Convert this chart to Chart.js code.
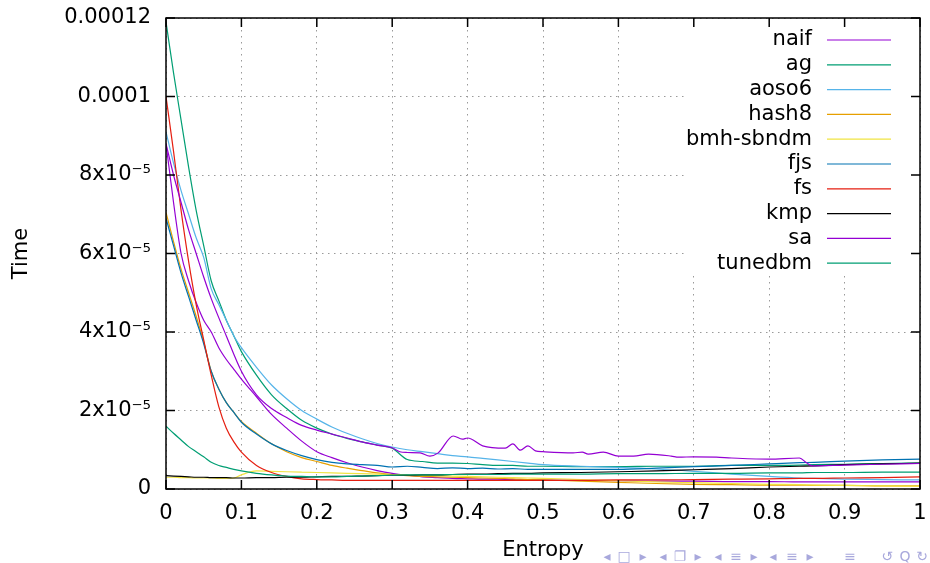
<!DOCTYPE html>
<html>
<head>
<meta charset="utf-8">
<script src="https://cdn.jsdelivr.net/npm/chart.js"></script>
<style>
html, body { margin: 0; padding: 0; background: #fff; }
#wrap { width: 930px; height: 563px; }
</style>
</head>
<body>
<div id="wrap"><canvas id="entropy_chart" width="930" height="563"></canvas></div>
<script>
// time values are in units of 1e-5 (the y axis labels carry the scale)
var entropy = [0, 0.01, 0.02, 0.03, 0.04, 0.05, 0.06, 0.07, 0.08, 0.09,
    0.10, 0.12, 0.14, 0.16, 0.18, 0.20, 0.22, 0.24, 0.26, 0.28,
    0.30, 0.32, 0.34, 0.36, 0.38, 0.40, 0.42, 0.44, 0.46, 0.48,
    0.50, 0.55, 0.60, 0.65, 0.70, 0.75, 0.80, 0.84, 0.86, 0.90, 0.95, 1.00]

var naif = [8.8, 7.3, 6.0, 5.3, 4.75, 4.3, 4.0, 3.6, 3.3, 3.05,
    2.8, 2.35, 1.9, 1.55, 1.22, 0.95, 0.8, 0.67, 0.56, 0.47,
    0.4, 0.35, 0.31, 0.29, 0.27, 0.26, 0.25, 0.25, 0.24, 0.24,
    0.23, 0.22, 0.21, 0.2, 0.2, 0.19, 0.19, 0.18, 0.18, 0.18, 0.18, 0.18]
var ag = [11.9, 10.6, 9.4, 8.2, 7.1, 6.2, 5.3, 4.8, 4.3, 3.9,
    3.5, 2.9, 2.4, 2.05, 1.75, 1.55, 1.4, 1.29, 1.2, 1.12,
    1.04, 0.75, 0.7, 0.66, 0.66, 0.65, 0.62, 0.6, 0.6, 0.58,
    0.58, 0.57, 0.57, 0.58, 0.58, 0.6, 0.6, 0.61, 0.62, 0.63, 0.65, 0.66]
var aoso6 = [9.1, 8.3, 7.6, 7.0, 6.4, 5.9, 5.1, 4.7, 4.3, 3.9,
    3.6, 3.1, 2.65, 2.3, 2.0, 1.78, 1.58, 1.42, 1.28, 1.16,
    1.07, 1.0, 0.95, 0.9, 0.85, 0.82, 0.78, 0.74, 0.7, 0.66,
    0.62, 0.58, 0.55, 0.51, 0.45, 0.38, 0.32, 0.28, 0.27, 0.25, 0.24, 0.23]
var hash8 = [7.05, 6.3, 5.6, 5.0, 4.4, 3.75, 3.0, 2.55, 2.2, 1.95,
    1.72, 1.42, 1.15, 0.95, 0.8, 0.7, 0.6, 0.53, 0.47, 0.41,
    0.37, 0.34, 0.32, 0.31, 0.3, 0.29, 0.28, 0.27, 0.26, 0.24,
    0.23, 0.2, 0.17, 0.14, 0.12, 0.11, 0.1, 0.1, 0.09, 0.09, 0.08, 0.08]
var bmhSbndm = [0.3, 0.3, 0.29, 0.29, 0.28, 0.28, 0.28, 0.27, 0.27, 0.28,
    0.36, 0.46, 0.45, 0.44, 0.43, 0.42, 0.41, 0.4, 0.39, 0.38,
    0.37, 0.36, 0.35, 0.34, 0.33, 0.32, 0.31, 0.3, 0.29, 0.28,
    0.27, 0.24, 0.21, 0.18, 0.16, 0.14, 0.12, 0.11, 0.1, 0.09, 0.08, 0.07]
var fjs = [6.9, 6.2, 5.5, 4.9, 4.3, 3.7, 3.0, 2.55, 2.2, 1.95,
    1.7, 1.4, 1.15, 0.98, 0.85, 0.75, 0.68, 0.64, 0.62, 0.6,
    0.56, 0.58, 0.55, 0.52, 0.54, 0.52, 0.53, 0.51, 0.52, 0.5,
    0.5, 0.5, 0.5, 0.53, 0.57, 0.6, 0.64, 0.67, 0.68, 0.71, 0.74, 0.76]
var fs = [10.0, 8.6, 7.1, 5.8, 4.7, 3.8, 2.9, 2.1, 1.55, 1.2,
    0.94, 0.6, 0.42, 0.32, 0.26, 0.24, 0.23, 0.22, 0.22, 0.22,
    0.22, 0.22, 0.22, 0.22, 0.22, 0.22, 0.22, 0.22, 0.22, 0.22,
    0.22, 0.22, 0.23, 0.23, 0.24, 0.25, 0.26, 0.27, 0.27, 0.28, 0.29, 0.31]
var kmp = [0.34, 0.33, 0.32, 0.31, 0.3, 0.3, 0.29, 0.29, 0.29, 0.28,
    0.28, 0.29, 0.29, 0.3, 0.3, 0.31, 0.32, 0.32, 0.33, 0.34,
    0.35, 0.35, 0.36, 0.36, 0.37, 0.38, 0.38, 0.39, 0.4, 0.4,
    0.41, 0.42, 0.44, 0.46, 0.49, 0.52, 0.56, 0.58, 0.59, 0.62, 0.64, 0.66]
var tunedbm = [1.6, 1.42, 1.25, 1.08, 0.95, 0.82, 0.68, 0.6, 0.55, 0.5,
    0.46, 0.4, 0.36, 0.33, 0.32, 0.31, 0.31, 0.32, 0.33, 0.34,
    0.35, 0.36, 0.36, 0.36, 0.37, 0.37, 0.37, 0.37, 0.38, 0.38,
    0.38, 0.38, 0.39, 0.39, 0.4, 0.4, 0.41, 0.41, 0.42, 0.42, 0.43, 0.43]

// sa is sampled on its own grid (it is jagged)
var saEntropy = [0, 0.01, 0.02, 0.03, 0.04, 0.05, 0.06, 0.08, 0.10, 0.12,
    0.14, 0.16, 0.18, 0.20, 0.22, 0.24, 0.26, 0.28, 0.30, 0.31,
    0.32, 0.337, 0.35, 0.361, 0.381, 0.393, 0.40, 0.42, 0.45, 0.46,
    0.47, 0.48, 0.49, 0.50, 0.54, 0.552, 0.56, 0.58, 0.60, 0.62,
    0.64, 0.67, 0.68, 0.70, 0.73, 0.75, 0.80, 0.84, 0.85, 0.857,
    0.90, 0.95, 1.00]
var sa = [8.8, 8.0, 7.3, 6.6, 6.0, 5.4, 4.85, 3.9, 3.0, 2.4,
    2.05, 1.82, 1.62, 1.5, 1.4, 1.3, 1.2, 1.12, 1.05, 0.95,
    0.93, 0.92, 0.84, 0.92, 1.35, 1.27, 1.3, 1.1, 1.04, 1.15,
    0.99, 1.1, 0.97, 0.95, 0.92, 0.94, 0.89, 0.94, 0.84, 0.84,
    0.89, 0.84, 0.81, 0.82, 0.81, 0.79, 0.76, 0.79, 0.66, 0.59,
    0.61, 0.63, 0.65]

var names = ['naif', 'ag', 'aoso6', 'hash8', 'bmh-sbndm', 'fjs', 'fs', 'kmp', 'sa', 'tunedbm']
var series = [naif, ag, aoso6, hash8, bmhSbndm, fjs, fs, kmp, sa, tunedbm]
var xValues = [entropy, entropy, entropy, entropy, entropy, entropy, entropy, entropy, saEntropy, entropy]
var cores = ['#9400d3', '#009e73', '#56b4e9', '#e69f00', '#f0e442', '#0072b2', '#e51e10', '#000000', '#9400d3', '#009e73']

var xTickLabels = ['0', '0.1', '0.2', '0.3', '0.4', '0.5', '0.6', '0.7', '0.8', '0.9', '1']
var yTickLabels = ['0', '2x10\u207B\u2075', '4x10\u207B\u2075', '6x10\u207B\u2075', '8x10\u207B\u2075', '0.0001', '0.00012']

var font = 'DejaVu Sans'
var fontSize = 21
Chart.defaults.font.family = font
Chart.defaults.color = '#000'

var datasets = []
for (var i = 0; i < series.length; i++) {
    var xs = xValues[i]
    datasets.push({
        label: names[i],
        data: series[i].map(function (v, k) { return {x: xs[k], y: v} }),
        borderColor: cores[i],
        backgroundColor: cores[i],
        borderWidth: 1.2,
        pointRadius: 0,
        fill: false,
        cubicInterpolationMode: 'monotone',
        order: series.length - i
    })
}

// gnuplot style frame, inward tics, key and beamer nav symbols
var gnuplotFrame = {
    id: 'gnuplotFrame',
    beforeDatasetsDraw: function (chart) {
        var ctx = chart.ctx, a = chart.chartArea
        ctx.save()
        ctx.fillStyle = '#fff'
        ctx.fillRect(686, a.top + 10, a.right - 687, 248)
        ctx.restore()
    },
    afterDraw: function (chart) {
        var ctx = chart.ctx, a = chart.chartArea
        var sx = chart.scales.x, sy = chart.scales.y
        ctx.save()
        ctx.strokeStyle = '#000'
        ctx.lineWidth = 1.5
        ctx.strokeRect(a.left, a.top, a.right - a.left, a.bottom - a.top)
        ctx.beginPath()
        sx.ticks.forEach(function (t) {
            var p = sx.getPixelForValue(t.value)
            ctx.moveTo(p, a.bottom); ctx.lineTo(p, a.bottom - 9)
            ctx.moveTo(p, a.top); ctx.lineTo(p, a.top + 9)
        })
        sy.ticks.forEach(function (t) {
            var p = sy.getPixelForValue(t.value)
            ctx.moveTo(a.left, p); ctx.lineTo(a.left + 9, p)
            ctx.moveTo(a.right, p); ctx.lineTo(a.right - 9, p)
        })
        ctx.stroke()

        // key
        ctx.font = fontSize + 'px "' + font + '"'
        ctx.textAlign = 'right'
        ctx.textBaseline = 'middle'
        chart.data.datasets.forEach(function (ds, k) {
            var yy = 40 + k * 24.8
            ctx.fillStyle = '#000'
            ctx.fillText(ds.label, 812, yy)
            ctx.strokeStyle = ds.borderColor
            ctx.lineWidth = 1.2
            ctx.beginPath()
            ctx.moveTo(827, yy); ctx.lineTo(891, yy)
            ctx.stroke()
        })

        // beamer navigation symbols
        var nav = ['\u25C2', '\u25A1', '\u25B8', '\u25C2', '\u2750', '\u25B8', '\u25C2', '\u2261', '\u25B8',
            '\u25C2', '\u2261', '\u25B8', '\u2261', '\u21BA', 'Q', '\u21BB']
        var navX = [607, 624, 643, 663, 680, 698, 718, 736, 754, 773, 792, 810, 850, 887, 905, 922]
        ctx.fillStyle = '#a8a8dc'
        ctx.textAlign = 'center'
        ctx.font = '14px "' + font + '"'
        nav.forEach(function (c, k) { ctx.fillText(c, navX[k], 557) })
        ctx.restore()
    }
}

var ctx = document.getElementById('entropy_chart')
var chartLine = new Chart(ctx, {
    type: 'line',
    data: { datasets: datasets },
    plugins: [gnuplotFrame],
    options: {
        responsive: false,
        animation: false,
        layout: { padding: { top: 18, right: 10, left: 0, bottom: 0 } },
        plugins: {
            legend: { display: false },
            tooltip: { enabled: false }
        },
        scales: {
            x: {
                type: 'linear',
                min: 0,
                max: 1,
                border: { display: false, dash: [1.5, 4.5] },
                grid: { color: '#9a9a9a', drawTicks: false, lineWidth: 1 },
                ticks: {
                    stepSize: 0.1,
                    autoSkip: false,
                    maxRotation: 0,
                    padding: 12,
                    font: { size: fontSize },
                    callback: function (value) { return xTickLabels[Math.round(value * 10)] }
                },
                title: { display: true, text: 'Entropy', font: { size: fontSize }, padding: { top: 0, bottom: 0 } },
                afterFit: function (scale) {
                    scale.height = 74
                    scale.paddingLeft = 0
                    scale.paddingRight = 0
                }
            },
            y: {
                min: 0,
                max: 12,
                border: { display: false, dash: [1.5, 4.5] },
                grid: { color: '#9a9a9a', drawTicks: false, lineWidth: 1 },
                ticks: {
                    stepSize: 2,
                    padding: 15,
                    font: { size: fontSize },
                    callback: function (value) { return yTickLabels[Math.round(value / 2)] }
                },
                title: { display: true, text: 'Time', font: { size: fontSize }, padding: { top: 9, bottom: 0 } },
                afterFit: function (scale) {
                    scale.width = 166
                    scale.paddingTop = 0
                    scale.paddingBottom = 0
                }
            }
        }
    }
});
</script>
</body>
</html>
